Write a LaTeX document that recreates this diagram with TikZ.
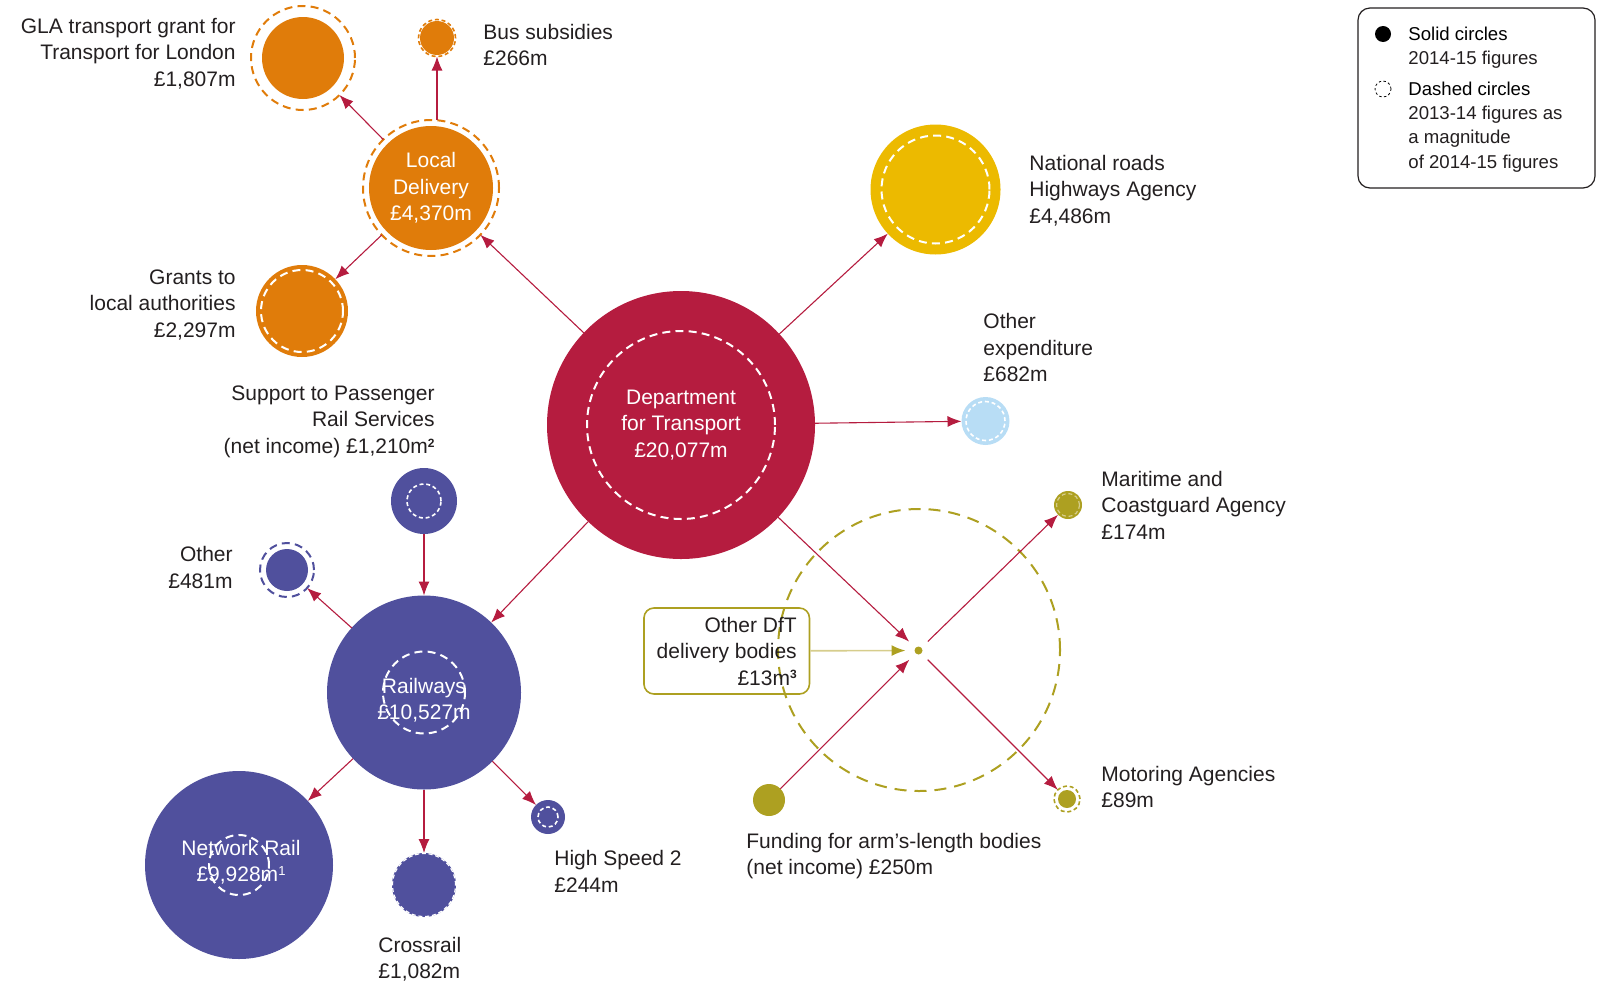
\documentclass[tikz,border=0pt]{standalone}
\usepackage{fontspec}
\setmainfont{Liberation Sans}
\usetikzlibrary{arrows.meta}
\definecolor{dftred}{RGB}{181,28,63}
\definecolor{ldorange}{RGB}{224,124,10}
\definecolor{rpurple}{RGB}{80,80,157}
\definecolor{nyellow}{RGB}{236,186,0}
\definecolor{lblue}{RGB}{184,221,245}
\definecolor{olive}{RGB}{173,160,33}
\definecolor{olivepale}{RGB}{214,205,140}
\definecolor{txt}{RGB}{35,31,32}
\newcommand\mainfs{\fontsize{10.5pt}{13.25pt}\selectfont}
\newcommand\legfs{\fontsize{9.3pt}{12.1pt}\selectfont}
\newcommand\supnum[1]{\raisebox{0.55ex}{\fontsize{6pt}{6pt}\selectfont\bfseries #1}}
\newcommand\supthin[1]{\raisebox{0.55ex}{\fontsize{6.5pt}{6.5pt}\selectfont #1}}
\begin{document}
\begin{tikzpicture}[x=0.5pt,y=-0.5pt,
 every node/.style={font=\mainfs, text=txt},
 sol/.style={circle, fill=#1, inner sep=0pt, outer sep=0pt},
 ring/.style={circle, draw=#1, line width=1pt, dash pattern=on 4pt off 2.6pt, inner sep=0pt, outer sep=0pt},
 sring/.style={circle, draw=#1, line width=0.8pt, dash pattern=on 2pt off 1.4pt, inner sep=0pt, outer sep=0pt},
 arr/.style={draw=dftred, line width=0.55pt, -{Latex[length=7pt,width=5.5pt]}},
 lblL/.style={anchor=west, align=left, inner sep=0pt},
 lblR/.style={anchor=east, align=right, inner sep=0pt},
 inner/.style={text=white, align=center, inner sep=0pt}]
\useasboundingbox (0,0) rectangle (1598,985);

% big olive dashed ring
\node[circle, draw=olive, line width=1pt, dash pattern=on 6pt off 4pt, minimum size=141pt, inner sep=0pt] (bigring) at (919,650) {};

% Department for Transport
\node[sol=dftred, minimum size=134pt] (dft) at (681,425) {};
\node[ring=white, minimum size=94pt] at (dft) {};
\node[inner] at (dft) {Department\\for Transport\\£20,077m};

% Local delivery
\node[sol=ldorange, minimum size=62pt] (ldin) at (431,188) {};
\node[ring=ldorange, minimum size=68pt] (ld) at (431,188) {};
\node[inner] at (ld) {Local\\Delivery\\£4,370m};

\node[sol=ldorange, minimum size=41pt] at (303,58) {};
\node[ring=ldorange, minimum size=52pt] (gla) at (303,58) {};

\node[sol=ldorange, minimum size=17pt] at (437,38) {};
\node[sring=ldorange, minimum size=18.5pt] (bus) at (437,38) {};

\node[sol=ldorange, minimum size=46pt] (grants) at (302,311) {};
\node[ring=white, minimum size=41pt] at (grants) {};

% National roads / other expenditure
\node[sol=nyellow, minimum size=65pt] (nat) at (935.5,189.5) {};
\node[ring=white, minimum size=54pt] at (nat) {};

\node[sol=lblue, minimum size=24pt] (oexp) at (985.5,421) {};
\node[sring=white, minimum size=19.5pt] at (oexp) {};

% Railways group
\node[sol=rpurple, minimum size=33pt] (sup) at (424,501) {};
\node[sring=white, minimum size=17pt] at (sup) {};

\node[sol=rpurple, minimum size=21pt] at (287,570) {};
\node[ring=rpurple, minimum size=27pt] (oth) at (287,570) {};

\node[sol=rpurple, minimum size=97pt] (rail) at (424,692.5) {};
\node[ring=white, minimum size=41pt] at (rail) {};
\node[inner] at (424,700) {Railways\\£10,527m};

\node[sol=rpurple, minimum size=94pt] (nr) at (239,865) {};
\node[ring=white, minimum size=30pt] at (nr) {};
\node[inner] at (241,862) {Network Rail\\£9,928m\supthin{1}};

\node[sol=rpurple, minimum size=32pt] (cr) at (424,885) {};
\node[sring=white, minimum size=31.5pt, line width=0.6pt] at (cr) {};

\node[sol=rpurple, minimum size=17pt] (hs2) at (548,817) {};
\node[sring=white, minimum size=10pt] at (hs2) {};

% arm's-length bodies
\node[sol=olive, minimum size=4pt] (hub) at (918.5,650.5) {};

\node[sol=olive, minimum size=14pt] (mca) at (1068,505) {};
\node[sring=olivepale, minimum size=11.5pt, line width=0.6pt] at (mca) {};

\node[sol=olive, minimum size=9pt] at (1067,799) {};
\node[sring=olive, minimum size=13pt] (mot) at (1067,799) {};

\node[sol=olive, minimum size=16pt] (fund) at (769,800) {};

\node[draw=olive, line width=0.8pt, rounded corners=5pt, minimum width=82.75pt, minimum height=43pt, align=right, inner sep=0pt] (box) at (726.7,651) {Other DfT\\delivery bodies\\£13m\supnum{3}};

% connectors
\draw[arr] (dft) -- (ld);
\draw[arr] (ld) -- (gla);
\draw[arr] (bus |- ld.north) -- (bus);
\draw[arr] (ld) -- (grants);
\draw[arr] (dft) -- (nat);
\draw[arr] (dft) -- (oexp);
\draw[arr] (dft) -- (rail);
\draw[arr] (sup) -- (rail);
\draw[arr] (rail) -- (oth);
\draw[arr] (rail) -- (nr);
\draw[arr] (rail) -- (cr);
\draw[arr] (rail) -- (hs2);
\draw[arr, shorten >=4.5pt] (dft) -- (hub);
\draw[arr, shorten >=4.5pt] (fund) -- (hub);
\draw[arr, shorten <=4.5pt] (hub) -- (mca);
\draw[arr, shorten <=4.5pt] (hub) -- (mot);
\draw[olivepale, line width=0.8pt, -{Latex[length=7pt,width=5.5pt,color=olive]}, shorten >=4.5pt] (box) -- (hub);

% labels
\node[lblR] at (236,53.5) {GLA transport grant for\\Transport for London\\£1,807m};
\node[lblL] at (483,45) {Bus subsidies\\£266m};
\node[lblR] at (236,305) {Grants to\\local authorities\\£2,297m};
\node[lblR] at (435,421.5) {Support to Passenger\\Rail Services\\(net income) £1,210m\supnum{2}};
\node[lblR] at (233,567.5) {Other\\£481m};
\node[lblL] at (554,871.5) {High Speed 2\\£244m};
\node[lblL] at (378,959) {Crossrail\\£1,082m};
\node[lblL] at (746,856) {Funding for arm’s-length bodies\\(net income) £250m};
\node[lblL] at (1101,787) {Motoring Agencies\\£89m};
\node[lblL] at (1101,505) {Maritime and\\Coastguard Agency\\£174m};
\node[lblL] at (983,347.5) {Other\\expenditure\\£682m};
\node[lblL] at (1029,190.5) {National roads\\Highways Agency\\£4,486m};

% legend
\node[draw=txt, line width=0.6pt, rounded corners=6pt, minimum width=118.5pt, minimum height=90pt, inner sep=0pt] (legend) at (1476.5,98) {};
\node[sol=black, minimum size=8pt] (lsol) at (1383,34) {};
\node[circle, draw=black, dash pattern=on 1.2pt off 1.2pt, line width=0.4pt, minimum size=8pt, inner sep=0pt] (ldsh) at (1383,89) {};
\node[lblL, font=\legfs] at (1408,48) {\textcolor{black}{Solid circles}\\2014-15 figures};
\node[lblL, font=\legfs] at (1408,127) {\textcolor{black}{Dashed circles}\\2013-14 figures as\\a magnitude\\of 2014-15 figures};
\end{tikzpicture}
\end{document}
